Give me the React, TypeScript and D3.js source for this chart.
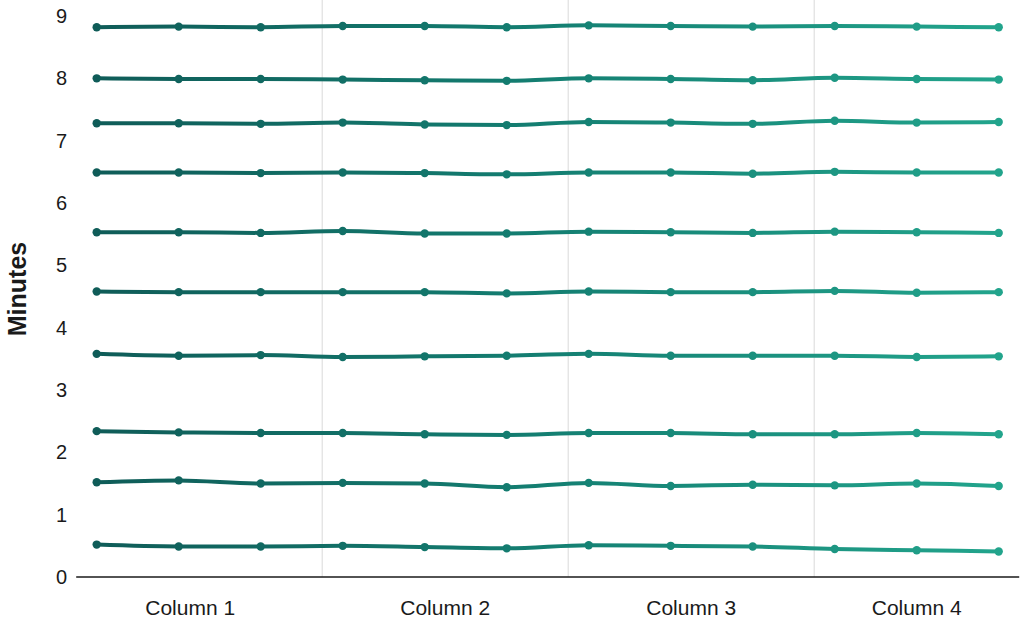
import { useRef, useEffect } from 'react'
import * as d3 from 'd3'

const WIDTH = 1024
const HEIGHT = 624

const columns = ['Column 1', 'Column 2', 'Column 3', 'Column 4']
const yTicks = [0, 1, 2, 3, 4, 5, 6, 7, 8, 9]

// 12 samples per series, 3 per column
const series1 = [8.82, 8.83, 8.82, 8.84, 8.84, 8.82, 8.85, 8.84, 8.83, 8.84, 8.83, 8.82]
const series2 = [8.0, 7.99, 7.99, 7.98, 7.97, 7.96, 8.0, 7.99, 7.97, 8.01, 7.99, 7.98]
const series3 = [7.28, 7.28, 7.27, 7.29, 7.26, 7.25, 7.3, 7.29, 7.27, 7.32, 7.29, 7.3]
const series4 = [6.49, 6.49, 6.48, 6.49, 6.48, 6.46, 6.49, 6.49, 6.47, 6.5, 6.49, 6.49]
const series5 = [5.53, 5.53, 5.52, 5.55, 5.51, 5.51, 5.54, 5.53, 5.52, 5.54, 5.53, 5.52]
const series6 = [4.58, 4.57, 4.57, 4.57, 4.57, 4.55, 4.58, 4.57, 4.57, 4.59, 4.56, 4.57]
const series7 = [3.58, 3.55, 3.56, 3.53, 3.54, 3.55, 3.58, 3.55, 3.55, 3.55, 3.53, 3.54]
const series8 = [2.34, 2.32, 2.31, 2.31, 2.29, 2.28, 2.31, 2.31, 2.29, 2.29, 2.31, 2.29]
const series9 = [1.52, 1.55, 1.5, 1.51, 1.5, 1.44, 1.51, 1.46, 1.48, 1.47, 1.5, 1.46]
const series10 = [0.52, 0.49, 0.49, 0.5, 0.48, 0.46, 0.51, 0.5, 0.49, 0.45, 0.43, 0.41]

const allSeries = [series1, series2, series3, series4, series5, series6, series7, series8, series9, series10]

export default function App() {
  const svgRef = useRef<SVGSVGElement>(null)

  useEffect(() => {
    if (!svgRef.current) return
    const svg = d3.select(svgRef.current)
    svg.selectAll('*').remove()

    const nPts = series1.length
    const perCol = nPts / columns.length

    // x by sample index
    const xScale = d3.scaleLinear().domain([0, nPts - 1]).range([96.7, 998.7])
    const yScale = d3.scaleLinear().domain([0, 9]).range([577, 16])

    const axisLeft = xScale(-0.25)
    const axisRight = xScale(nPts - 1 + 0.25)

    // gradient for lines (dark teal -> lighter teal)
    const defs = svg.append('defs')
    const grad = defs.append('linearGradient')
      .attr('id', 'line-grad')
      .attr('gradientUnits', 'userSpaceOnUse')
      .attr('x1', xScale(0))
      .attr('x2', xScale(nPts - 1))
      .attr('y1', 0)
      .attr('y2', 0)
    grad.append('stop').attr('offset', '0%').attr('stop-color', '#0f5c58')
    grad.append('stop').attr('offset', '50%').attr('stop-color', '#147f72')
    grad.append('stop').attr('offset', '100%').attr('stop-color', '#22a48c')

    // column separators
    const bounds = d3.range(1, columns.length).map((c) => xScale(c * perCol - 0.25))
    svg.append('g')
      .selectAll('line')
      .data(bounds)
      .enter()
      .append('line')
      .attr('x1', (d) => d)
      .attr('x2', (d) => d)
      .attr('y1', 0)
      .attr('y2', yScale(0))
      .attr('stroke', '#d9d9d9')
      .attr('stroke-width', 1)

    // x axis baseline
    svg.append('line')
      .attr('x1', axisLeft)
      .attr('x2', axisRight)
      .attr('y1', yScale(0))
      .attr('y2', yScale(0))
      .attr('stroke', '#1a1a1a')
      .attr('stroke-width', 1.5)

    // y tick labels
    svg.append('g')
      .selectAll('text')
      .data(yTicks)
      .enter()
      .append('text')
      .attr('x', 67)
      .attr('y', (d) => yScale(d))
      .attr('text-anchor', 'end')
      .attr('dominant-baseline', 'central')
      .attr('font-family', '"Liberation Sans", Arial, sans-serif')
      .attr('font-size', '20px')
      .attr('fill', '#1a1a1a')
      .text((d) => d)

    // y axis title
    svg.append('text')
      .attr('transform', `translate(26, 289) rotate(-90)`)
      .attr('text-anchor', 'middle')
      .attr('font-family', '"Liberation Sans", Arial, sans-serif')
      .attr('font-size', '25px')
      .attr('font-weight', 'bold')
      .attr('fill', '#1a1a1a')
      .text('Minutes')

    // column labels
    const edges = [axisLeft - 18, ...bounds, axisRight]
    svg.append('g')
      .selectAll('text')
      .data(columns)
      .enter()
      .append('text')
      .attr('x', (_, i) => (edges[i] + edges[i + 1]) / 2)
      .attr('y', 607)
      .attr('text-anchor', 'middle')
      .attr('dominant-baseline', 'central')
      .attr('font-family', '"Liberation Sans", Arial, sans-serif')
      .attr('font-size', '21px')
      .attr('fill', '#1a1a1a')
      .text((d) => d)

    // lines
    const line = d3.line<number>()
      .x((_, i) => xScale(i))
      .y((d) => yScale(d))
      .curve(d3.curveMonotoneX)

    const linesG = svg.append('g')
    allSeries.forEach((s) => {
      linesG.append('path')
        .attr('d', line(s))
        .attr('fill', 'none')
        .attr('stroke', 'url(#line-grad)')
        .attr('stroke-width', 4)
        .attr('stroke-linejoin', 'round')
        .attr('stroke-linecap', 'round')

      linesG.append('g')
        .selectAll('circle')
        .data(s)
        .enter()
        .append('circle')
        .attr('cx', (_, i) => xScale(i))
        .attr('cy', (d) => yScale(d))
        .attr('r', 4.2)
        .attr('fill', 'url(#line-grad)')
    })
  }, [])

  return (
    <svg
      ref={svgRef}
      width={WIDTH}
      height={HEIGHT}
      style={{ position: 'absolute', left: 0, top: 0, background: '#fff' }}
    />
  )
}
